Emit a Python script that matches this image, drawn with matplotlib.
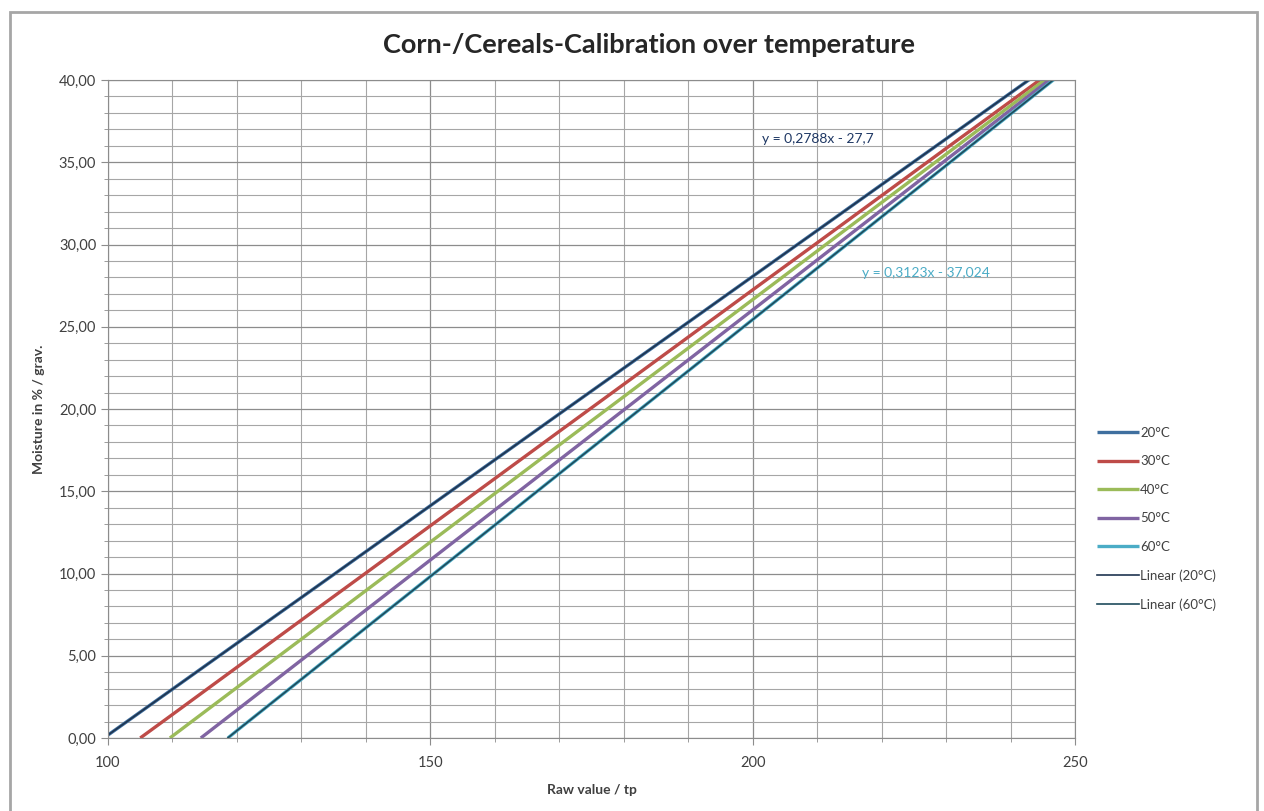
import numpy as np
import matplotlib.pyplot as plt
from matplotlib.ticker import MultipleLocator, FuncFormatter

plt.rcParams['font.family'] = ['Lato', 'DejaVu Sans']

# raw values (tp) and moisture readings for each temperature
raw_20 = [100, 110, 120, 130, 140, 150, 160, 170, 180, 190, 200, 210, 220, 230, 240, 250]
moist_20 = [0.18, 2.97, 5.76, 8.54, 11.33, 14.12, 16.91, 19.70, 22.48, 25.27, 28.06, 30.85, 33.64, 36.42, 39.21, 42.00]

raw_30 = [105, 110, 120, 130, 140, 150, 160, 170, 180, 190, 200, 210, 220, 230, 240, 250]
moist_30 = [0.0, 1.43, 4.30, 7.17, 10.03, 12.90, 15.77, 18.64, 21.50, 24.37, 27.24, 30.10, 32.97, 35.84, 38.70, 41.57]

raw_40 = [109.6, 120, 130, 140, 150, 160, 170, 180, 190, 200, 210, 220, 230, 240, 250]
moist_40 = [0.0, 3.07, 6.01, 8.96, 11.91, 14.86, 17.81, 20.75, 23.70, 26.65, 29.60, 32.55, 35.49, 38.44, 41.39]

raw_50 = [114.4, 120, 130, 140, 150, 160, 170, 180, 190, 200, 210, 220, 230, 240, 250]
moist_50 = [0.0, 1.70, 4.74, 7.78, 10.82, 13.86, 16.90, 19.94, 22.98, 26.02, 29.06, 32.10, 35.14, 38.18, 41.22]

raw_60 = [118.6, 120, 130, 140, 150, 160, 170, 180, 190, 200, 210, 220, 230, 240, 250]
moist_60 = [0.0, 0.45, 3.57, 6.70, 9.82, 12.94, 16.07, 19.19, 22.31, 25.44, 28.56, 31.68, 34.80, 37.93, 41.05]

series = [
    ('20°C', raw_20, moist_20, '#3F6F9F'),
    ('30°C', raw_30, moist_30, '#BE4B48'),
    ('40°C', raw_40, moist_40, '#9BBB59'),
    ('50°C', raw_50, moist_50, '#8064A2'),
    ('60°C', raw_60, moist_60, '#4BACC6'),
]

fig = plt.figure(figsize=(12.64, 8.11), dpi=100)
# outer chart border like the excel chart area
fig.patches.append(plt.Rectangle((10 / 1264, -0.01), 1247 / 1264, 1 - 12 / 811 + 0.01,
                                 transform=fig.transFigure, fill=False,
                                 edgecolor='#A6A6A6', linewidth=2))
ax = fig.add_axes([108 / 1264, 1 - 738 / 811, (1075 - 108) / 1264, (738 - 80) / 811])

for name, xs, ys, col in series:
    ax.plot(xs, ys, color=col, linewidth=2.4, label=name, solid_capstyle='butt')

# linear trendlines for 20°C and 60°C
p20 = np.polyfit(raw_20, moist_20, 1)
p60 = np.polyfit(raw_60, moist_60, 1)
x20 = np.array([raw_20[0], raw_20[-1]])
x60 = np.array([raw_60[0], raw_60[-1]])
ax.plot(x20, np.polyval(p20, x20), color='#1F3550', linewidth=1.2, label='Linear (20°C)')
ax.plot(x60, np.polyval(p60, x60), color='#1F4B5C', linewidth=1.2, label='Linear (60°C)')

ax.text(201.5, 36.2, 'y = 0,2788x - 27,7', fontsize=10, color='#1F3864')
ax.text(217, 28.0, 'y = 0,3123x - 37,024', fontsize=10, color='#4BACC6')

ax.set_xlim(100, 250)
ax.set_ylim(0, 40)
ax.xaxis.set_major_locator(MultipleLocator(50))
ax.xaxis.set_minor_locator(MultipleLocator(10))
ax.yaxis.set_major_locator(MultipleLocator(5))
ax.yaxis.set_minor_locator(MultipleLocator(1))
ax.yaxis.set_major_formatter(FuncFormatter(lambda v, p: f'{v:.2f}'.replace('.', ',')))
ax.grid(which='major', color='#8C8C8C', linewidth=0.9)
ax.grid(which='minor', color='#A6A6A6', linewidth=0.8)
ax.set_axisbelow(True)
for s in ax.spines.values():
    s.set_color('#8C8C8C')
ax.tick_params(which='both', colors='#8C8C8C', labelcolor='#404040', labelsize=10.5)
ax.tick_params(which='major', length=5)
ax.tick_params(which='minor', length=3)
ax.tick_params(axis='x', pad=8)

ax.set_xlabel('Raw value / tp', fontsize=10, fontweight='bold', color='#404040', labelpad=10)
ax.set_ylabel('Moisture in % / grav.', fontsize=10, fontweight='bold', color='#404040', labelpad=10)
fig.text(649 / 1264, 1 - 45 / 811, 'Corn-/Cereals-Calibration over temperature', ha='center', va='center',
         fontsize=19.5, fontweight='bold', color='#262626')

leg = ax.legend(loc='center left', bbox_to_anchor=(1.01, 0.333), frameon=False, fontsize=9.5,
                handlelength=3.2, handletextpad=0.1, labelspacing=1.25, labelcolor='#404040')

fig.savefig('out.png', dpi=100)
